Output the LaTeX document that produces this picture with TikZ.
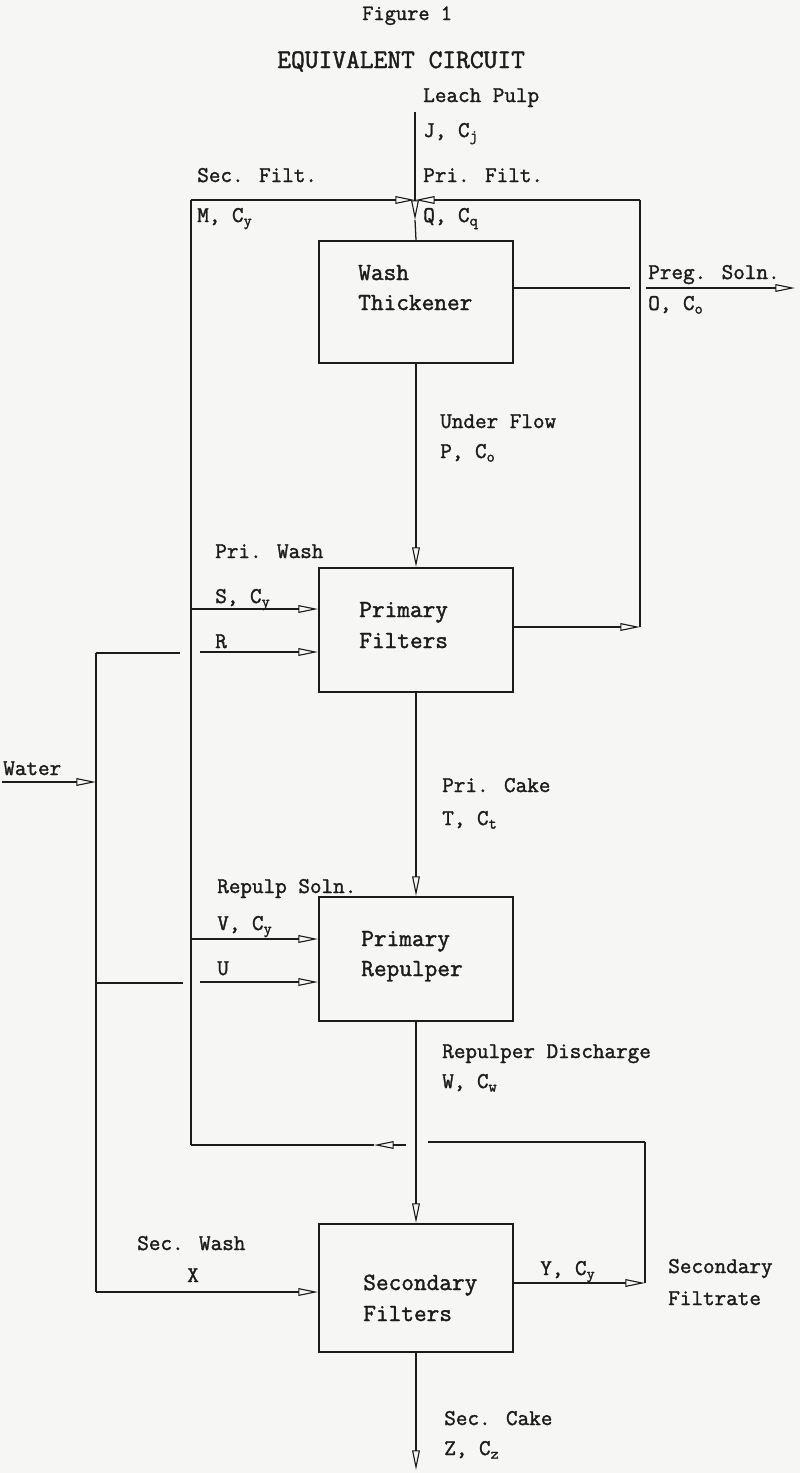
\documentclass[tikz,border=0pt]{standalone}
\usepackage{fontspec}
\newfontfamily\typer{Latin Modern Mono}[FakeBold=1.6]
\usepackage{tikz}
\usetikzlibrary{arrows.meta,positioning}
\usepackage{xcolor}
\definecolor{ink}{HTML}{1C1C1C}
\definecolor{paper}{HTML}{F6F6F4}
\tikzset{
  unit/.style={draw=ink, line width=1.4pt, minimum width=4.85cm,
               minimum height=3.1cm, inner sep=0pt},
  hflow/.style={draw=ink, line width=1.9pt},
  vflow/.style={draw=ink, line width=0.9pt},
  tip/.style={-{Triangle[open, length=14pt, width=5.5pt, line width=0.8pt]}},
  lbl/.style={anchor=base west, inner sep=0pt, text=ink,
              font=\fontsize{16}{19}\selectfont\typer},
  unittxt/.style={lbl, font=\fontsize{17.5}{21}\selectfont\typer},
  ttl/.style={lbl, font=\fontsize{15.5}{19}\selectfont\typer}
}

\begin{document}
\begin{tikzpicture}[x=0.025cm,y=-0.025cm]

  \fill[paper] (0,0) rectangle (800,1473);
  \useasboundingbox (0,0) rectangle (800,1473);

  % heading
  \node[ttl] (fig) at (362,20) {Figure 1};
  \node[ttl, font=\fontsize{19}{23}\selectfont\typer] (head) at (277,68) {EQUIVALENT CIRCUIT};

  % the four units
  \node[unit, minimum height=3.05cm] (thick) at (416,302) {};
  \node[unit] (pf) at (416,630) {};
  \node[unit] (rp) at (416,959) {};
  \node[unit, minimum height=3.2cm] (sf) at (416,1288) {};
  \foreach \x/\y/\lab [count=\i] in {358/280/Wash, 358/310/Thickener,
      359/617/Primary, 359/648/Filters, 361/946/Primary, 361/976/Repulper,
      363/1290/Secondary, 363/1321/Filters} {
     \node[unittxt] (ut\i) at (\x,\y) {\lab};
  }

  % stream labels
  \foreach \x/\y/\lab [count=\i] in {
      423/102/{Leach Pulp}, 423/137/{J, C\textsubscript{j}},
      197/182/{Sec. Filt.}, 423/182/{Pri. Filt.},
      197/222/{M, C\textsubscript{y}}, 423/222/{Q, C\textsubscript{q}},
      648/279/{Preg. Soln.}, 648/310/{O, C\textsubscript{o}},
      440/428/{Under Flow}, 440/458/{P, C\textsubscript{o}},
      215/558/{Pri. Wash}, 215/603/{S, C\textsubscript{y}}, 215/648/R,
      3/775/Water,
      442/792/{Pri. Cake}, 442/825/{T, C\textsubscript{t}},
      217/893/{Repulp Soln.}, 217/930/{V, C\textsubscript{y}}, 217/975/U,
      442/1058/{Repulper Discharge}, 442/1088/{W, C\textsubscript{w}},
      137/1250/{Sec. Wash}, 187/1282/X,
      540/1275/{Y, C\textsubscript{y}},
      668/1273/Secondary, 668/1305/Filtrate,
      444/1425/{Sec. Cake}, 444/1455/{Z, C\textsubscript{z}}} {
     \node[lbl] (sl\i) at (\x,\y) {\lab};
  }

  % junction points
  \coordinate (leach) at (415,112);
  \coordinate (jtop) at (415,200);
  \coordinate (qtip) at (415,220);
  \coordinate (tl) at (191,200);
  \coordinate (tr) at (640,200);
  \coordinate (bl) at (191,1145);
  \coordinate (pfout) at (640,627);
  \coordinate (pregA) at (630,288);
  \coordinate (pregB) at (646,288);
  \coordinate (pregC) at (795,288);
  \coordinate (sin) at (191,609);
  \coordinate (vin) at (191,939);
  \coordinate (win) at (2,782);
  \coordinate (wtop) at (96,653);
  \coordinate (wbot) at (96,1292);
  \coordinate (rstub) at (180,653);
  \coordinate (rbeg) at (200,652);
  \coordinate (ustub) at (183,983);
  \coordinate (ubeg) at (200,982);
  \coordinate (retA) at (406,1145);
  \coordinate (retB) at (374,1145);
  \coordinate (retC) at (428,1142);
  \coordinate (br) at (645,1142);
  \coordinate (yout) at (645,1283);
  \coordinate (cake) at (416,1470);

  % feed and filtrates to the thickener
  \draw[vflow, tip] (leach) -- (qtip);
  \draw[vflow] (qtip) -- (thick.north);
  \draw[hflow, tip] (tl) -- (jtop);
  \draw[hflow, tip] (tr) -- (jtop);
  \draw[vflow] (tl) -- (bl);
  \draw[vflow] (tr) -- (pfout);
  \draw[hflow, tip] (pf.east |- pfout) -- (pfout);

  % overflow
  \draw[hflow] (thick.east |- pregA) -- (pregA);
  \draw[hflow, tip] (pregB) -- (pregC);

  % solids down the train
  \draw[vflow, tip] (thick.south) -- (pf.north);
  \draw[vflow, tip] (pf.south) -- (rp.north);
  \draw[vflow, tip] (rp.south) -- (sf.north);
  \draw[vflow, tip] (sf.south) -- (cake);

  % wash solution from the secondary filtrate
  \draw[hflow, tip] (sin) -- (pf.west |- sin);
  \draw[hflow, tip] (vin) -- (rp.west |- vin);

  % water
  \draw[hflow, tip] (win) -- (wtop |- win);
  \draw[vflow] (wtop) -- (wbot);
  \draw[hflow] (wtop) -- (rstub);
  \draw[hflow, tip] (rbeg) -- (pf.west |- rbeg);
  \draw[hflow] (wtop |- ustub) -- (ustub);
  \draw[hflow, tip] (ubeg) -- (rp.west |- ubeg);
  \draw[hflow, tip] (wbot) -- (sf.west |- wbot);

  % secondary filtrate back up
  \draw[hflow, tip] (sf.east |- yout) -- (yout);
  \draw[vflow] (yout) -- (br);
  \draw[hflow] (br) -- (retC);
  \draw[hflow, tip] (retA) -- (retB);
  \draw[hflow] (retB) -- (bl);
\end{tikzpicture}
\end{document}
